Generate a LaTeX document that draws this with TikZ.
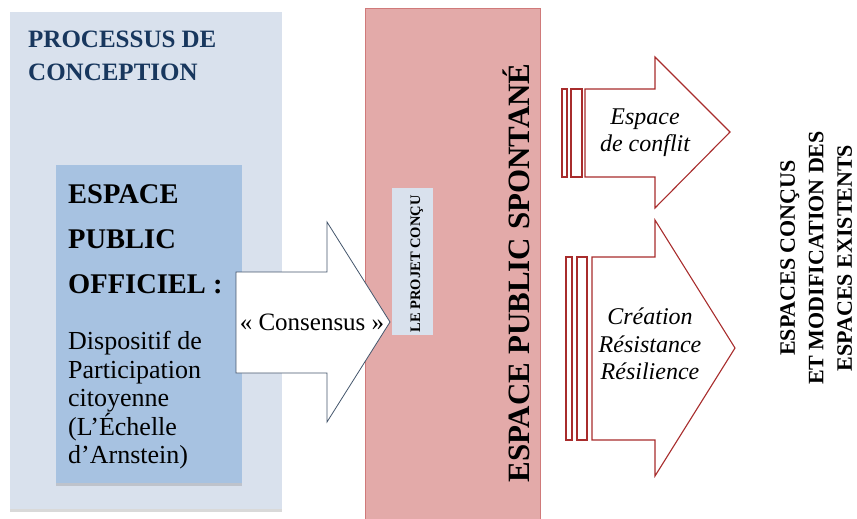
\documentclass[tikz,border=0pt]{standalone}
\usepackage{fontspec}
\setmainfont{Liberation Serif}
\usetikzlibrary{shadows}
\definecolor{conceptbg}{RGB}{217,225,237}
\definecolor{officielbg}{RGB}{167,194,225}
\definecolor{spontbg}{RGB}{227,170,169}
\definecolor{spontline}{RGB}{208,122,122}
\definecolor{flechebleue}{RGB}{68,86,108}
\definecolor{flecherouge}{RGB}{168,44,44}
\definecolor{titrebleu}{RGB}{24,55,94}
\begin{document}
\begin{tikzpicture}[x=1pt,y=-1pt,
    txt/.style={inner sep=0pt, align=center},
    ombre/.style={drop shadow={shadow xshift=0pt,shadow yshift=-2.5pt,opacity=.3}},
    rouge/.style={draw=flecherouge, line width=1.1pt, fill=white}]
    \useasboundingbox (0,0) rectangle (857,519);
    % processus de conception
    \fill[conceptbg,ombre] (10,12) rectangle (282,509);
    \fill[officielbg,ombre] (56,165) rectangle (242,483);
    \node[txt, anchor=north west, align=left, text=titrebleu,
        font=\bfseries\fontsize{25}{33}\selectfont] (processus) at (28,31) {PROCESSUS DE\\CONCEPTION};
    \node[txt, anchor=north west, align=left,
        font=\bfseries\fontsize{28.5}{45}\selectfont] (officiel) at (68,184) {ESPACE\\PUBLIC\\OFFICIEL :};
    \node[txt, anchor=north west, align=left,
        font=\fontsize{26}{28.5}\selectfont] (dispositif) at (68,331) {Dispositif de\\Participation\\citoyenne\\(L’Échelle\\d’Arnstein)};
    % espace public spontane
    \fill[spontbg] (365,8) rectangle (540,525);
    \draw[spontline] (365,525) -- (365,8) -- (540,8) -- (540,525);
    \fill[conceptbg] (392,188) rectangle (433,335);
    \node[txt, rotate=90, anchor=base, font=\bfseries\fontsize{14.5}{16}\selectfont] (projet) at (420,264) {LE PROJET CONÇU};
    \node[txt, rotate=90, anchor=base, font=\bfseries\fontsize{31}{34}\selectfont] (spontane) at (529,273) {ESPACE PUBLIC SPONTANÉ};
    % fleche consensus
    \draw[draw=flechebleue, fill=white, line width=.8pt] (236,272) -- (327,272) -- (327,222) -- (390,322)
        -- (327,422) -- (327,373) -- (236,373) -- cycle;
    \node[txt, font=\fontsize{25}{28}\selectfont] (consensus) at (312,322) {« Consensus »};
    % fleches rouges
    \draw[rouge] (562,89) rectangle (567,177);
    \draw[rouge] (571,89) rectangle (582,177);
    \draw[rouge] (585,89) -- (655,89) -- (655,57) -- (730,132) -- (655,208) -- (655,177) -- (585,177) -- cycle;
    \node[txt, font=\itshape\fontsize{24}{27}\selectfont] (conflit) at (645,133) {Espace\\de conflit};
    \draw[rouge] (566,257) rectangle (572,440);
    \draw[rouge] (577,257) rectangle (587,440);
    \draw[rouge] (592,257) -- (655,257) -- (655,220) -- (735,348) -- (655,476) -- (655,440) -- (592,440) -- cycle;
    \node[txt, font=\itshape\fontsize{24}{27.5}\selectfont] (creation) at (650,344) {Création\\Résistance\\Résilience};
    % espaces concus
    \node[txt, rotate=90, anchor=north, font=\bfseries\fontsize{22}{28.5}\selectfont] (existants) at (780,258) {ESPACES CONÇUS\\ET MODIFICATION DES\\ESPACES EXISTENTS};
\end{tikzpicture}
\end{document}
